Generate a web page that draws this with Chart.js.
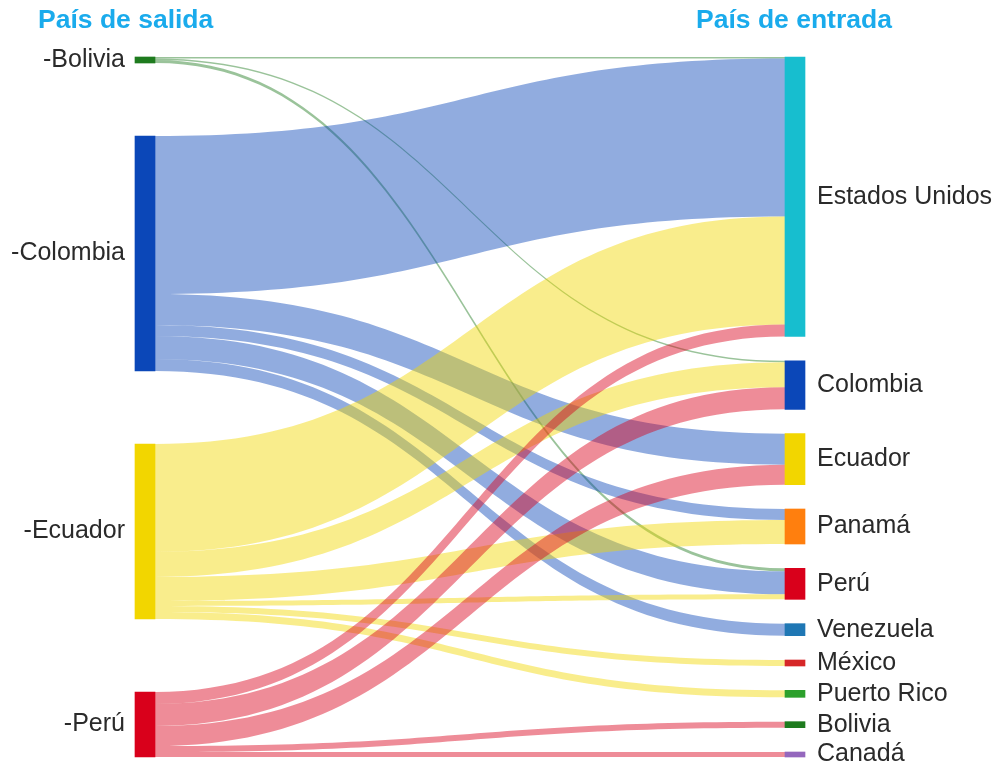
<!DOCTYPE html>
<html lang="es">
<head>
<meta charset="UTF-8">
<title>País de salida / País de entrada</title>
<script src="https://cdn.jsdelivr.net/npm/chart.js"></script>
<style>
  html, body { margin: 0; padding: 0; background: #fff; }
  #wrap { position: relative; width: 997px; height: 771px; }
  .titulo {
    position: absolute; top: 4px; margin: 0;
    font: bold 26.5px "Liberation Sans", Arial, sans-serif;
    line-height: 30px; color: #1AABEC;
  }
</style>
</head>
<body>
<div id="wrap">
  <h2 class="titulo" style="left:38px">País de salida</h2>
  <h2 class="titulo" style="left:696px">País de entrada</h2>
  <canvas id="sankey"></canvas>
</div>

<script>
// nodos
const salida  = ["Bolivia", "Colombia", "Ecuador", "Perú"];
const entrada = ["Estados Unidos", "Colombia", "Ecuador", "Panamá", "Perú",
                 "Venezuela", "México", "Puerto Rico", "Bolivia", "Canadá"];

// flujos (índice de salida -> índice de entrada, valor)
const flujoDesde = [0, 0, 0,  1, 1, 1, 1, 1,  2, 2, 2, 2, 2, 2,  3, 3, 3, 3, 3];
const flujoHacia = [0, 1, 4,  0, 2, 3, 4, 5,  0, 1, 3, 4, 6, 7,  0, 1, 2, 8, 9];
const flujoValor = [1.5, 1.5, 3,  158, 31, 11, 23, 12,  108, 25, 24, 5, 6, 7,  12, 22, 20, 6, 5];

const colorSalida  = ["#1E7B1E", "#0B47B8", "#F2D600", "#D9001B"];
const colorEntrada = ["#17BECF", "#0B47B8", "#F2D600", "#FF7F0E", "#D9001B",
                      "#1F77B4", "#D62728", "#2CA02C", "#1E7B1E", "#9467BD"];

const ALTO = 700;        // rango del eje y, en unidades de flujo
const OPACIDAD = 0.45;

function suma(arr) { return arr.reduce((a, b) => a + b, 0); }

// total de cada nodo
const totalSalida = salida.map((_, i) => suma(flujoValor.filter((v, k) => flujoDesde[k] === i)));
const totalEntrada = entrada.map((_, j) => suma(flujoValor.filter((v, k) => flujoHacia[k] === j)));

// columna repartida en todo el alto
function columna(totales) {
    const hueco = (ALTO - suma(totales)) / (totales.length - 1);
    let y = 0;
    return totales.map(v => { const r = [y, y + v]; y += v + hueco; return r; });
}
const posSalida = columna(totalSalida);
const posEntrada = columna(totalEntrada);

// posición de cada flujo dentro de sus nodos
const offS = posSalida.map(p => p[0]);
const offE = posEntrada.map(p => p[0]);
const tramos = flujoValor.map((v, k) => {
    const s = flujoDesde[k], t = flujoHacia[k];
    const r = { s, t, s0: offS[s], s1: offS[s] + v, t0: offE[t], t1: offE[t] + v };
    offS[s] += v;
    offE[t] += v;
    return r;
});

function rgba(hex, a) {
    const n = parseInt(hex.slice(1), 16);
    return `rgba(${n >> 16}, ${(n >> 8) & 255}, ${n & 255}, ${a})`;
}

const flujos = {
    id: "flujos",
    beforeDatasetsDraw(chart) {
        const { ctx, scales: { x, y } } = chart;
        const medio = chart.getDatasetMeta(0).data[0].width / 2;
        const x0 = x.getPixelForValue(0) + medio;
        const x1 = x.getPixelForValue(1) - medio;
        const xm = (x0 + x1) / 2;
        ctx.save();
        tramos.forEach(f => {
            const a = y.getPixelForValue(f.s0), b = y.getPixelForValue(f.s1);
            const c = y.getPixelForValue(f.t0), d = y.getPixelForValue(f.t1);
            ctx.beginPath();
            ctx.moveTo(x0, a);
            ctx.bezierCurveTo(xm, a, xm, c, x1, c);
            ctx.lineTo(x1, d);
            ctx.bezierCurveTo(xm, d, xm, b, x0, b);
            ctx.closePath();
            ctx.fillStyle = rgba(colorSalida[f.s], OPACIDAD);
            ctx.fill();
        });
        ctx.restore();
    },
    afterDatasetsDraw(chart) {
        const { ctx, scales: { x, y } } = chart;
        const medio = chart.getDatasetMeta(0).data[0].width / 2;
        ctx.save();
        ctx.font = '25px "Liberation Sans", Arial, sans-serif';
        ctx.fillStyle = "#2a2a2a";
        ctx.textBaseline = "middle";
        ctx.textAlign = "right";
        salida.forEach((n, i) => {
            const yc = y.getPixelForValue((posSalida[i][0] + posSalida[i][1]) / 2);
            ctx.fillText("-" + n, x.getPixelForValue(0) - medio - 10, yc);
        });
        ctx.textAlign = "left";
        entrada.forEach((n, j) => {
            const yc = y.getPixelForValue((posEntrada[j][0] + posEntrada[j][1]) / 2);
            ctx.fillText(n, x.getPixelForValue(1) + medio + 12, yc);
        });
        ctx.restore();
    }
};

const nodos = [
    ...salida.map((n, i) => ({ x: 0, y: posSalida[i] })),
    ...entrada.map((n, j) => ({ x: 1, y: posEntrada[j] }))
];

new Chart(document.getElementById("sankey"), {
    type: "bar",
    data: {
        datasets: [{
            data: nodos,
            backgroundColor: [...colorSalida, ...colorEntrada],
            borderWidth: 0,
            barThickness: 20,
            clip: false
        }]
    },
    options: {
        responsive: true,
        maintainAspectRatio: false,
        animation: false,
        events: [],
        layout: { padding: { left: 145, right: 202, top: 57, bottom: 14 } },
        scales: {
            x: { type: "linear", min: 0, max: 1, offset: false, display: false },
            y: { min: 0, max: ALTO, reverse: true, display: false }
        },
        plugins: { legend: { display: false }, tooltip: { enabled: false } }
    },
    plugins: [flujos]
});
</script>
</body>
</html>
